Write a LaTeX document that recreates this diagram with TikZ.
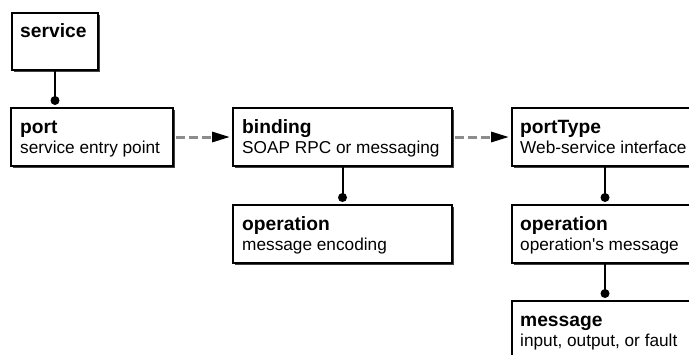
\documentclass[tikz,border=0pt]{standalone}
\usepackage{fontspec}
\setmainfont{Liberation Sans}
\usetikzlibrary{arrows.meta,shadows}
\begin{document}
\begin{tikzpicture}[x=1bp,y=-1bp,
  box/.style={draw=black, line width=1.4bp, fill=white, rectangle, inner sep=0pt, outer sep=0pt,
    anchor=north west,
    drop shadow={shadow xshift=1.6bp, shadow yshift=-1.6bp, fill=black!75, opacity=1}},
  ttl/.style={anchor=base west, inner sep=0pt, font=\fontsize{19.3}{20}\selectfont\bfseries},
  sub/.style={anchor=base west, inner sep=0pt, font=\fontsize{17.3}{18}\selectfont},
  link/.style={line width=2bp},
  dot/.style={circle, fill=black, inner sep=0pt, minimum size=9bp},
  flow/.style={draw=black!45, line width=3bp, dash pattern=on 9bp off 4bp,
    -{Triangle[length=18bp,width=10bp,color=black]}, shorten >=3bp, shorten <=2.5bp}
]
\useasboundingbox (0,0) rectangle (689,354);
\clip (0,0) rectangle (689,354);

% boxes
\node[box, minimum width=86bp, minimum height=57bp] (service) at (12,13) {};
\node[box, minimum width=162bp, minimum height=58bp] (port) at (11,108) {};
\node[box, minimum width=219bp, minimum height=58bp] (binding) at (233,108) {};
\node[box, minimum width=219bp, minimum height=58bp] (bop) at (233,205) {};
\node[box, minimum width=186bp, minimum height=58bp] (ptype) at (512,108) {};
\node[box, minimum width=186bp, minimum height=58bp] (pop) at (512,205) {};
\node[box, minimum width=186bp, minimum height=58bp] (msg) at (512,301) {};

% texts
\node[ttl] (serviceT) at ([shift={(8,24)}]service.north west) {service};
\node[ttl] (portT) at ([shift={(9,25)}]port.north west) {port};
\node[sub] (portS) at ([shift={(9,45)}]port.north west) {service entry point};
\node[ttl] (bindingT) at ([shift={(9,25)}]binding.north west) {binding};
\node[sub] (bindingS) at ([shift={(9,45)}]binding.north west) {SOAP RPC or messaging};
\node[ttl] (bopT) at ([shift={(9,25)}]bop.north west) {operation};
\node[sub] (bopS) at ([shift={(9,45)}]bop.north west) {message encoding};
\node[ttl] (ptypeT) at ([shift={(8,25)}]ptype.north west) {portType};
\node[sub] (ptypeS) at ([shift={(8,45)}]ptype.north west) {Web-service interface};
\node[ttl] (popT) at ([shift={(8,25)}]pop.north west) {operation};
\node[sub] (popS) at ([shift={(8,45)}]pop.north west) {operation\textquotesingle s message};
\node[ttl] (msgT) at ([shift={(8,25)}]msg.north west) {message};
\node[sub] (msgS) at ([shift={(8,45)}]msg.north west) {input, output, or fault};

% containment links ending in dots
\node[dot] (d1) at ([yshift=7.5bp]port.north -| service.south) {};
\draw[link] (service.south) -- (d1.center);
\node[dot] (d2) at ([yshift=7.5bp]bop.north) {};
\draw[link] (binding.south) -- (d2.center);
\node[dot] (d3) at ([yshift=7.5bp]pop.north) {};
\draw[link] (ptype.south) -- (d3.center);
\node[dot] (d4) at ([yshift=7.5bp]msg.north) {};
\draw[link] (pop.south) -- (d4.center);

% reference arrows
\draw[flow] (port.east) -- (binding.west);
\draw[flow] (binding.east) -- (ptype.west);
\end{tikzpicture}
\end{document}
